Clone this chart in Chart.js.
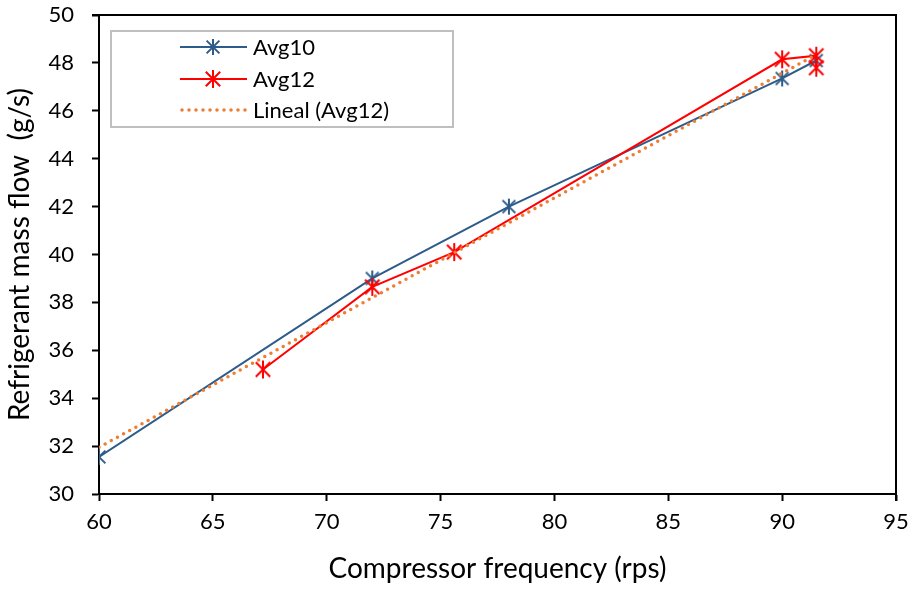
<!DOCTYPE html>
<html>
<head>
<meta charset="utf-8">
<script src="https://cdn.jsdelivr.net/npm/chart.js@4.4.1/dist/chart.umd.min.js"></script>
<style>
  html, body { margin: 0; padding: 0; background: #fff; }
  #wrap { width: 915px; height: 590px; }
</style>
</head>
<body>
<div id="wrap"><canvas id="chart"></canvas></div>
<script>
const avg10X = [60, 72, 78, 90, 91.5];
const avg10Y = [31.55, 39.0, 42.0, 47.35, 48.1];
const avg12X = [67.2, 72, 75.6, 90, 91.5, 91.5];
const avg12Y = [35.2, 38.65, 40.1, 48.15, 48.3, 47.8];
// endpoints of the linear trendline
const trendX = [60, 91.5];
const trendY = [31.95, 48.35];

const xTicks = [60, 65, 70, 75, 80, 85, 90, 95];
const yTicks = [30, 32, 34, 36, 38, 40, 42, 44, 46, 48, 50];

const FONT = "Lato, 'Open Sans', sans-serif";

function pts(xs, ys) {
  return xs.map((x, i) => ({ x: x, y: ys[i] }));
}

// spreadsheet style star marker: an x with a vertical bar
function starMarker(color, size) {
  const c = document.createElement("canvas");
  c.width = size + 4;
  c.height = size + 4;
  const g = c.getContext("2d");
  const m = c.width / 2, r = size / 2;
  g.strokeStyle = color;
  g.lineWidth = 2;
  g.beginPath();
  g.moveTo(m - r * 0.8, m - r * 0.8); g.lineTo(m + r * 0.8, m + r * 0.8);
  g.moveTo(m + r * 0.8, m - r * 0.8); g.lineTo(m - r * 0.8, m + r * 0.8);
  g.moveTo(m, m - r); g.lineTo(m, m + r);
  g.stroke();
  return c;
}

const blueStar = starMarker("#2E5C8A", 16);
const redStar = starMarker("#FF0000", 18);

// frame on top and right side of the plot area
const frame = {
  id: "frame",
  afterDraw(chart) {
    const { ctx, chartArea: a } = chart;
    ctx.save();
    ctx.strokeStyle = "#000";
    ctx.lineWidth = 2;
    ctx.beginPath();
    ctx.moveTo(a.left - 7, a.top);
    ctx.lineTo(a.right, a.top);
    ctx.lineTo(a.right, a.bottom + 7);
    ctx.stroke();
    ctx.restore();
  },
};

// legend box inside the plot, like the spreadsheet one
const boxLegend = {
  id: "boxLegend",
  afterDraw(chart) {
    const ctx = chart.ctx;
    const left = 111, top = 31, w = 342, h = 96;
    ctx.save();
    ctx.fillStyle = "#fff";
    ctx.fillRect(left, top, w, h);
    ctx.strokeStyle = "#bfbfbf";
    ctx.lineWidth = 2;
    ctx.strokeRect(left, top, w, h);
    const rows = [47, 79, 110];
    chart.data.datasets.forEach((ds, i) => {
      const y = rows[i];
      ctx.strokeStyle = ds.borderColor;
      ctx.lineWidth = ds.borderWidth;
      ctx.lineCap = ds.borderCapStyle || "butt";
      ctx.setLineDash(ds.borderDash || []);
      ctx.beginPath();
      ctx.moveTo(i === 2 ? 182 : 180, y);
      ctx.lineTo(247, y);
      ctx.stroke();
      ctx.setLineDash([]);
      if (ds.pointRadius > 0) {
        const img = ds.pointStyle;
        ctx.drawImage(img, 213 - img.width / 2, y - img.height / 2);
      }
      ctx.fillStyle = "#000";
      ctx.font = "22px " + FONT;
      ctx.textBaseline = "middle";
      ctx.fillText(ds.label, 253, y + 1);
    });
    ctx.restore();
  },
};

new Chart(document.getElementById("chart"), {
  type: "scatter",
  data: {
    datasets: [
      {
        label: "Avg10",
        data: pts(avg10X, avg10Y),
        showLine: true,
        borderColor: "#2E5C8A",
        backgroundColor: "#2E5C8A",
        borderWidth: 2,
        pointStyle: blueStar,
        pointRadius: 8,
        order: 2,
      },
      {
        label: "Avg12",
        data: pts(avg12X, avg12Y),
        showLine: true,
        borderColor: "#FF0000",
        backgroundColor: "#FF0000",
        borderWidth: 2,
        pointStyle: redStar,
        pointRadius: 9,
        order: 1,
      },
      {
        label: "Lineal (Avg12)",
        data: pts(trendX, trendY),
        showLine: true,
        borderColor: "#ED7D31",
        borderWidth: 3.5,
        borderDash: [0, 7],
        borderCapStyle: "round",
        pointRadius: 0,
        order: 0,
      },
    ],
  },
  options: {
    responsive: true,
    maintainAspectRatio: false,
    animation: false,
    layout: { padding: { top: 15, right: 19, left: 0, bottom: 0 } },
    plugins: {
      legend: { display: false },
      tooltip: { enabled: false },
    },
    scales: {
      x: {
        type: "linear",
        min: 60,
        max: 95,
        afterBuildTicks: (s) => { s.ticks = xTicks.map((v) => ({ value: v })); },
        afterFit: (s) => { s.height = 96; s.paddingLeft = 0; s.paddingRight = 0; },
        grid: { drawOnChartArea: false, tickLength: 7, tickColor: "#000", tickWidth: 2 },
        border: { color: "#000", width: 2 },
        ticks: { color: "#000", font: { family: FONT, size: 22 }, padding: 8 },
        title: {
          display: true,
          text: "Compressor frequency (rps)",
          color: "#000",
          font: { family: FONT, size: 28 },
          padding: { top: 12 },
        },
      },
      y: {
        type: "linear",
        min: 30,
        max: 50,
        afterBuildTicks: (s) => { s.ticks = yTicks.map((v) => ({ value: v })); },
        afterFit: (s) => { s.width = 99; s.paddingTop = 0; s.paddingBottom = 0; },
        grid: { drawOnChartArea: false, tickLength: 7, tickColor: "#000", tickWidth: 2 },
        border: { color: "#000", width: 2 },
        ticks: { color: "#000", font: { family: FONT, size: 22 }, padding: 18 },
        title: {
          display: true,
          text: "Refrigerant mass flow  (g/s)",
          color: "#000",
          font: { family: FONT, size: 28 },
          padding: { top: 3, bottom: 4 },
        },
      },
    },
  },
  plugins: [frame, boxLegend],
});
</script>
</body>
</html>
